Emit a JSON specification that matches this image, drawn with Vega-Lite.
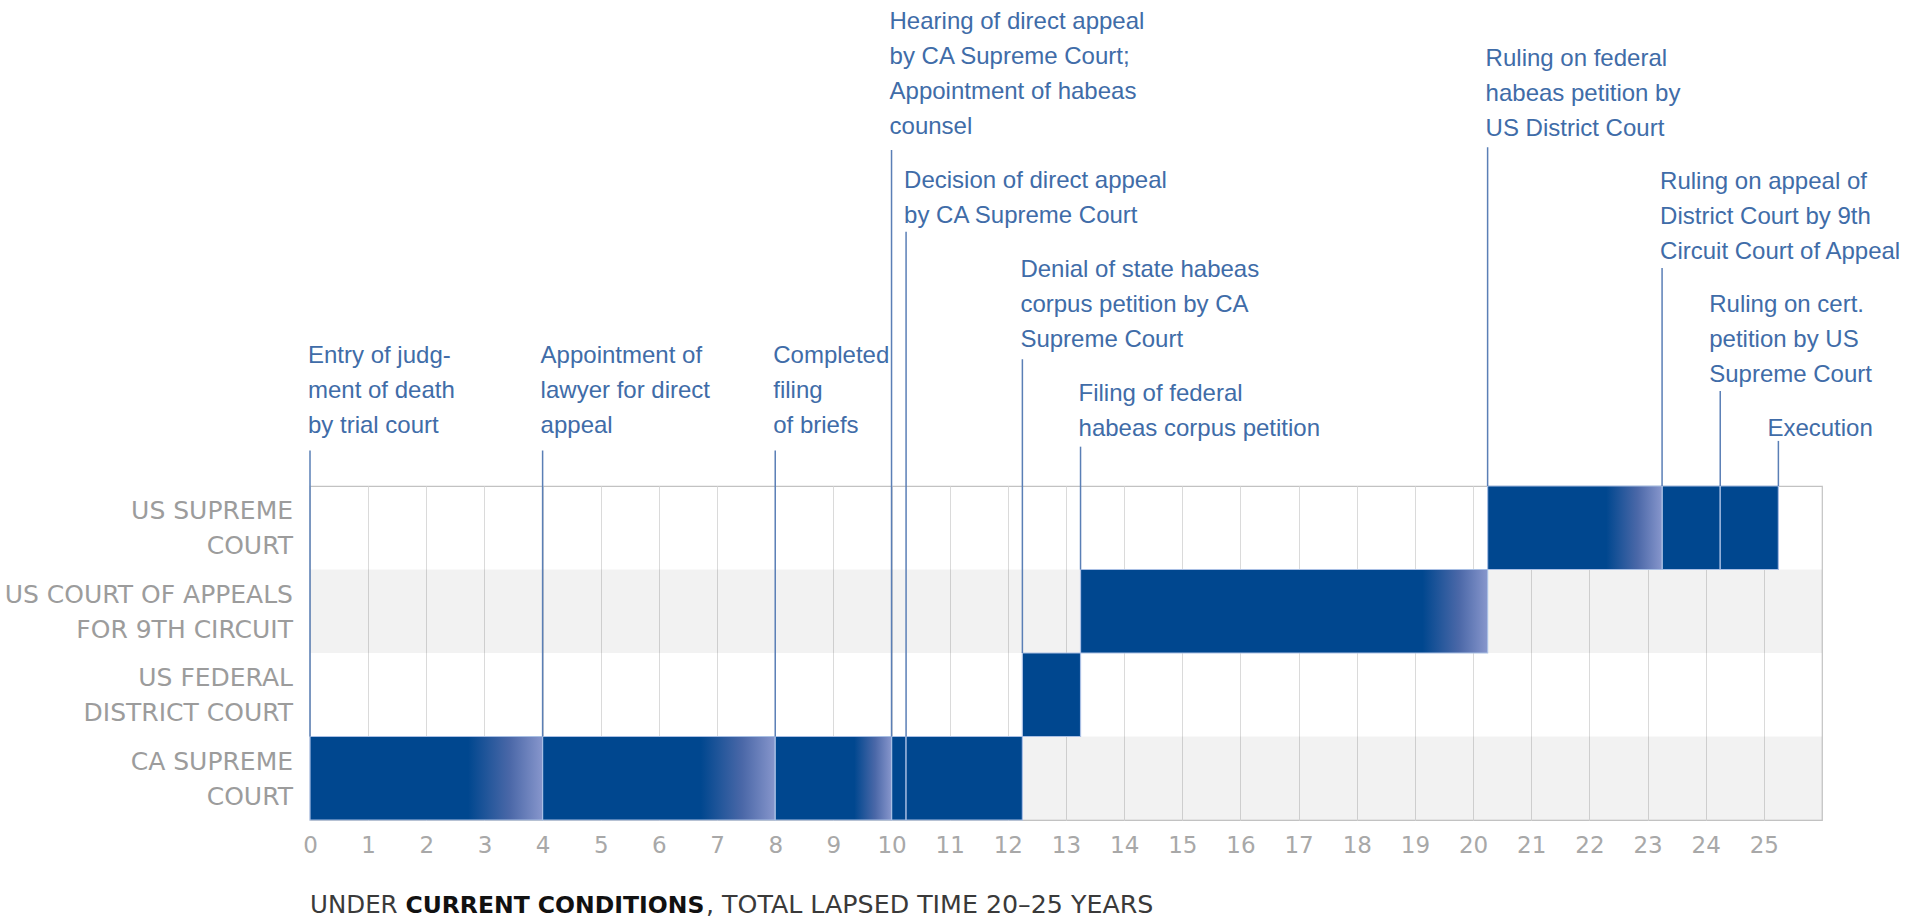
{
  "$schema": "https://vega.github.io/schema/vega-lite/v6.json",
  "width": 1512,
  "height": 334,
  "autosize": {"type": "none"},
  "padding": {"left": 310, "top": 486, "right": 87, "bottom": 99},
  "background": "#ffffff",
  "config": {
    "view": {"stroke": "#c2c2c2", "strokeWidth": 1.2},
    "axis": {"domain": false, "ticks": false}
  },
  "datasets": {
    "bars": [
      {"court": "CA SUPREME COURT", "start": 0, "end": 4, "lo": 0, "hi": 1},
      {"court": "CA SUPREME COURT", "start": 4, "end": 8, "lo": 0, "hi": 1},
      {"court": "CA SUPREME COURT", "start": 8, "end": 10, "lo": 0, "hi": 1},
      {"court": "CA SUPREME COURT", "start": 10, "end": 10.25, "lo": 0, "hi": 1},
      {"court": "CA SUPREME COURT", "start": 10.25, "end": 12.25, "lo": 0, "hi": 1},
      {"court": "US FEDERAL DISTRICT COURT", "start": 12.25, "end": 13.25, "lo": 1, "hi": 2},
      {"court": "US COURT OF APPEALS FOR 9TH CIRCUIT", "start": 13.25, "end": 20.25, "lo": 2, "hi": 3},
      {"court": "US SUPREME COURT", "start": 20.25, "end": 23.25, "lo": 3, "hi": 4},
      {"court": "US SUPREME COURT", "start": 23.25, "end": 24.25, "lo": 3, "hi": 4},
      {"court": "US SUPREME COURT", "start": 24.25, "end": 25.25, "lo": 3, "hi": 4}
    ],
    "courts": [
      {"label": "US SUPREME\nCOURT", "lo": 3, "hi": 4, "from": 0, "to": 26},
      {"label": "US COURT OF APPEALS\nFOR 9TH CIRCUIT", "lo": 2, "hi": 3, "from": 0, "to": 26},
      {"label": "US FEDERAL\nDISTRICT COURT", "lo": 1, "hi": 2, "from": 0, "to": 26},
      {"label": "CA SUPREME\nCOURT", "lo": 0, "hi": 1, "from": 0, "to": 26}
    ],
    "events": [
      {"event": "Entry of judg-\nment of death\nby trial court", "year": 0, "tier": 5.698, "top": 4.425, "base": 1},
      {"event": "Appointment of\nlawyer for direct\nappeal", "year": 4, "tier": 5.698, "top": 4.425, "base": 1},
      {"event": "Completed\nfiling\nof briefs", "year": 8, "tier": 5.698, "top": 4.425, "base": 1},
      {"event": "Hearing of direct appeal\nby CA Supreme Court;\nAppointment of habeas\ncounsel", "year": 10, "tier": 9.702, "top": 8.024, "base": 1},
      {"event": "Decision of direct appeal\nby CA Supreme Court", "year": 10.25, "tier": 7.794, "top": 7.046, "base": 1},
      {"event": "Denial of state habeas\ncorpus petition by CA\nSupreme Court", "year": 12.25, "tier": 6.728, "top": 5.517, "base": 2},
      {"event": "Filing of federal\nhabeas corpus petition", "year": 13.25, "tier": 5.251, "top": 4.471, "base": 3},
      {"event": "Ruling on federal\nhabeas petition by\nUS District Court", "year": 20.25, "tier": 9.255, "top": 8.056, "base": 4},
      {"event": "Ruling on appeal of\nDistrict Court by 9th\nCircuit Court of Appeal", "year": 23.25, "tier": 7.789, "top": 6.611, "base": 4},
      {"event": "Ruling on cert.\npetition by US\nSupreme Court", "year": 24.25, "tier": 6.313, "top": 5.138, "base": 4},
      {"event": "Execution", "year": 25.25, "tier": 4.832, "top": 4.54, "base": 4}
    ],
    "footer": [
      {"part": "UNDER ", "order": 1},
      {"part": "CURRENT CONDITIONS", "order": 2},
      {"part": ", TOTAL LAPSED TIME 20–25 YEARS", "order": 3}
    ]
  },
  "layer": [
    {
      "data": {"name": "courts"},
      "transform": [{"filter": {"field": "lo", "oneOf": [0, 2]}}],
      "mark": {"type": "rect", "fill": "#000000", "fillOpacity": 0.05},
      "encoding": {
        "x": {
          "field": "from", "type": "quantitative", "title": null,
          "scale": {"domain": [0, 26], "nice": false, "zero": false},
          "axis": {
            "values": [0,1,2,3,4,5,6,7,8,9,10,11,12,13,14,15,16,17,18,19,20,21,22,23,24,25],
            "format": "d",
            "grid": true, "gridColor": "#dadada", "gridWidth": 1,
            "labelFont": "DejaVu Sans", "labelFontSize": 23, "labelColor": "#a8a8a8",
            "labelPadding": 14, "labelFlush": false, "title": null
          }
        },
        "x2": {"field": "to"},
        "y": {"field": "lo", "type": "quantitative", "axis": null, "scale": {"domain": [0, 4], "nice": false, "zero": false}},
        "y2": {"field": "hi"}
      }
    },
    {
      "data": {"name": "bars"},
      "transform": [{"filter": {"field": "start", "oneOf": [10, 10.25, 12.25, 23.25, 24.25]}}],
      "mark": {"type": "rect", "fill": "#00478f", "stroke": "#a9bfe4", "strokeWidth": 1.2},
      "encoding": {
        "x": {"field": "start", "type": "quantitative", "title": null},
        "x2": {"field": "end"},
        "y": {"field": "lo", "type": "quantitative", "axis": null},
        "y2": {"field": "hi"}
      }
    },
    {
      "data": {"name": "bars"},
      "transform": [{"filter": {"field": "start", "oneOf": [0, 4, 8, 20.25]}}],
      "mark": {
        "type": "rect", "stroke": "#a9bfe4", "strokeWidth": 1.2,
        "fill": {
          "gradient": "linear", "x1": 0, "y1": 0, "x2": 1, "y2": 0,
          "stops": [
            {"offset": 0, "color": "#00478f"},
            {"offset": 0.68, "color": "#00478f"},
            {"offset": 0.86, "color": "#4b68a8"},
            {"offset": 1, "color": "#8796cc"}
          ]
        }
      },
      "encoding": {
        "x": {"field": "start", "type": "quantitative", "title": null},
        "x2": {"field": "end"},
        "y": {"field": "lo", "type": "quantitative", "axis": null},
        "y2": {"field": "hi"}
      }
    },
    {
      "data": {"name": "bars"},
      "transform": [{"filter": {"field": "start", "equal": 13.25}}],
      "mark": {
        "type": "rect", "stroke": "#a9bfe4", "strokeWidth": 1.2,
        "fill": {
          "gradient": "linear", "x1": 0, "y1": 0, "x2": 1, "y2": 0,
          "stops": [
            {"offset": 0, "color": "#00478f"},
            {"offset": 0.84, "color": "#00478f"},
            {"offset": 0.93, "color": "#4b68a8"},
            {"offset": 1, "color": "#8796cc"}
          ]
        }
      },
      "encoding": {
        "x": {"field": "start", "type": "quantitative", "title": null},
        "x2": {"field": "end"},
        "y": {"field": "lo", "type": "quantitative", "axis": null},
        "y2": {"field": "hi"}
      }
    },
    {
      "data": {"name": "events"},
      "mark": {"type": "rule", "color": "#5a7fb6", "strokeWidth": 1.5},
      "encoding": {
        "x": {"field": "year", "type": "quantitative", "title": null},
        "y": {"field": "top", "type": "quantitative", "axis": null},
        "y2": {"field": "base"}
      }
    },
    {
      "data": {"name": "events"},
      "transform": [{"filter": "datum.year < 24"}],
      "mark": {"type": "text", "align": "left", "baseline": "top", "dx": -2, "font": "Liberation Sans", "fontSize": 24, "lineHeight": 35, "lineBreak": "\n", "color": "#406ca8"},
      "encoding": {
        "x": {"field": "year", "type": "quantitative", "title": null},
        "y": {"field": "tier", "type": "quantitative", "axis": null},
        "text": {"field": "event"}
      }
    },
    {
      "data": {"name": "events"},
      "transform": [{"filter": "datum.year >= 24"}],
      "mark": {"type": "text", "align": "left", "baseline": "top", "dx": -11, "font": "Liberation Sans", "fontSize": 24, "lineHeight": 35, "lineBreak": "\n", "color": "#406ca8"},
      "encoding": {
        "x": {"field": "year", "type": "quantitative", "title": null},
        "y": {"field": "tier", "type": "quantitative", "axis": null},
        "text": {"field": "event"}
      }
    },
    {
      "data": {"name": "courts"},
      "mark": {"type": "text", "align": "right", "baseline": "top", "dx": -17, "dy": 13, "font": "DejaVu Sans", "fontSize": 25, "lineHeight": 35, "lineBreak": "\n", "color": "#9c9c9c"},
      "encoding": {
        "x": {"field": "from", "type": "quantitative", "title": null},
        "y": {"field": "hi", "type": "quantitative", "axis": null},
        "text": {"field": "label"}
      }
    },
    {
      "data": {"name": "footer"},
      "transform": [{"filter": "datum.order == 1"}],
      "mark": {"type": "text", "align": "left", "baseline": "alphabetic", "dy": 93, "font": "DejaVu Sans", "fontSize": 24.5, "color": "#3a3a3a"},
      "encoding": {
        "x": {"datum": 0, "type": "quantitative"},
        "y": {"datum": 0, "type": "quantitative"},
        "text": {"field": "part"}
      }
    },
    {
      "data": {"name": "footer"},
      "transform": [{"filter": "datum.order == 2"}],
      "mark": {"type": "text", "align": "left", "baseline": "alphabetic", "dx": 95.4, "dy": 93, "font": "DejaVu Sans", "fontWeight": "bold", "fontSize": 23.5, "color": "#111111"},
      "encoding": {
        "x": {"datum": 0, "type": "quantitative"},
        "y": {"datum": 0, "type": "quantitative"},
        "text": {"field": "part"}
      }
    },
    {
      "data": {"name": "footer"},
      "transform": [{"filter": "datum.order == 3"}],
      "mark": {"type": "text", "align": "left", "baseline": "alphabetic", "dx": 396, "dy": 93, "font": "DejaVu Sans", "fontSize": 25.3, "color": "#3a3a3a"},
      "encoding": {
        "x": {"datum": 0, "type": "quantitative"},
        "y": {"datum": 0, "type": "quantitative"},
        "text": {"field": "part"}
      }
    }
  ]
}
